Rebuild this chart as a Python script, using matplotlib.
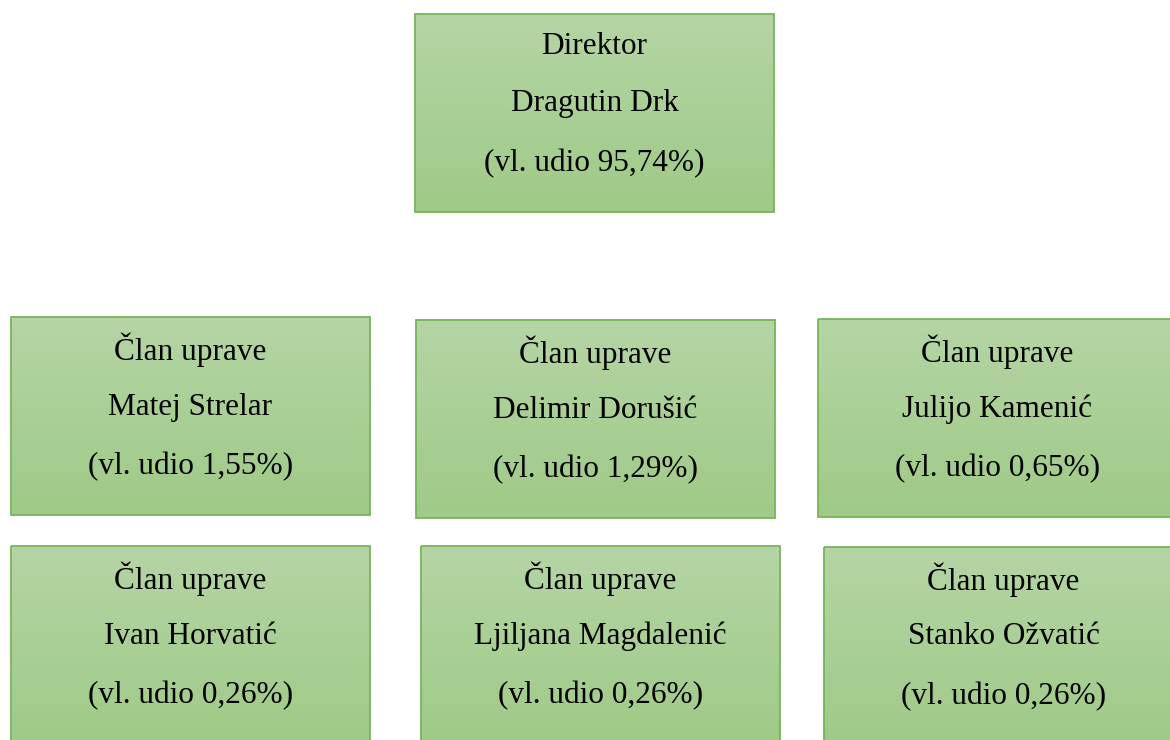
"""Org chart: ownership shares of the management board."""

import numpy as np
import matplotlib
matplotlib.use("Agg")
import matplotlib.pyplot as plt
from matplotlib.colors import LinearSegmentedColormap
from matplotlib.patches import Rectangle

titles = ["Direktor", "Član uprave", "Član uprave", "Član uprave",
          "Član uprave", "Član uprave", "Član uprave"]
names = ["Dragutin Drk", "Matej Strelar", "Delimir Dorušić", "Julijo Kamenić",
         "Ivan Horvatić", "Ljiljana Magdalenić", "Stanko Ožvatić"]
shares = ["95,74", "1,55", "1,29", "0,65", "0,26", "0,26", "0,26"]

# box layout in pixels (left, top); all boxes are the same size
boxes = [(415, 14), (11, 317), (416, 320), (818, 319),
         (11, 546), (421, 546), (824, 547)]
box_w, box_h = 359, 198

plt.rcParams["font.family"] = ["Liberation Serif", "DejaVu Serif"]

fig = plt.figure(figsize=(11.7, 7.4), dpi=100)
ax = fig.add_axes([0, 0, 1, 1])
ax.set_xlim(0, 1170)
ax.set_ylim(740, 0)
ax.axis("off")

grad = LinearSegmentedColormap.from_list("g", ["#b5d5a5", "#9fca87"])
ramp = np.linspace(0, 1, 256).reshape(-1, 1)

for (x0, y0), t, n, s in zip(boxes, titles, names, shares):
    ax.imshow(ramp, cmap=grad, aspect="auto", interpolation="bilinear",
              extent=(x0, x0 + box_w, y0 + box_h, y0), zorder=1)
    ax.add_patch(Rectangle((x0, y0), box_w, box_h, fill=False,
                           edgecolor="#78b35a", linewidth=1.3, zorder=2))
    cx = x0 + box_w / 2
    for dy, line in zip((33, 90, 150), (t, n, f"(vl. udio {s}%)")):
        ax.text(cx, y0 + dy, line, ha="center", va="center",
                fontsize=22.5, color="black", zorder=3)

ax.set_xlim(0, 1170)
ax.set_ylim(740, 0)
fig.savefig("out.png", dpi=100)
